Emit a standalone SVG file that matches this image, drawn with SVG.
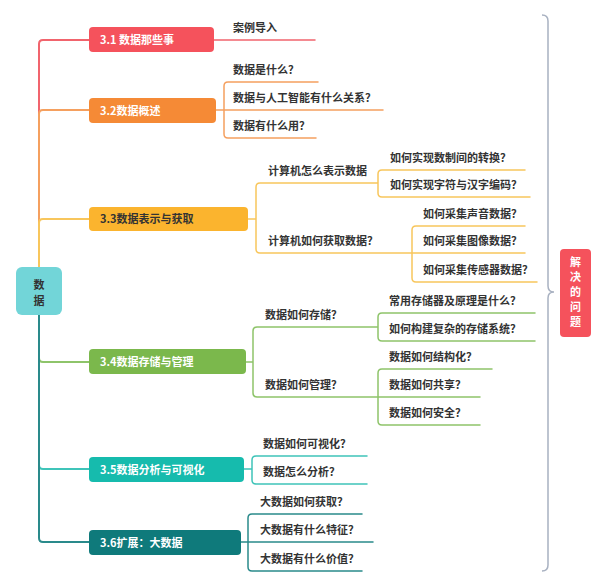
<svg xmlns="http://www.w3.org/2000/svg" width="608" height="586" viewBox="0 0 608 586">
<style>
text{font-family:"Noto Sans CJK SC","Noto Sans",sans-serif;font-weight:bold;font-size:11px;fill:#333}
.w{fill:#fff}
.ln{fill:none;stroke-width:1.5;stroke-linecap:round;stroke-linejoin:round}
.tr{fill:none;stroke-width:2;stroke-linejoin:round}
.c1{stroke:#f1646d}.c2{stroke:#f5a05f}.c3{stroke:#f8c65c}.c4{stroke:#8ec46a}.c5{stroke:#3fc4b9}.c6{stroke:#2a8a8b}
</style>
<rect width="608" height="586" fill="#fff"/>
<g id="connectors">
<path class="tr c1" d="M39,267 L39,44 Q39,40 43,40 L89,40"/>
<path class="tr c2" d="M39,267 L39,114 Q39,110 43,110 L89,110"/>
<path class="tr c3" d="M39,267 L39,223 Q39,219 43,219 L89,219"/>
<path class="tr c4" d="M39,315 L39,358 Q39,362 43,362 L89,362"/>
<path class="tr c5" d="M39,315 L39,465 Q39,469 43,469 L89,469"/>
<path class="tr c6" d="M39,315 L39,538 Q39,542 43,542 L89,542"/>
<path class="ln c1" d="M214,40 L315,40"/>
<path class="ln c2" d="M216,110 L383,110 M318,82 L228,82 Q224,82 224,86 L224,134 Q224,138 228,138 L316,138"/>
<path class="ln c3" d="M248,219 L256,219 M378,183 L260,183 Q256,183 256,187 L256,249 Q256,253 260,253 L525,253 M525,170 L382,170 Q378,170 378,174 L378,193 Q378,197 382,197 L530,197 M525,226 L416,226 Q412,226 412,230 L412,278 Q412,282 416,282 L537,282"/>
<path class="ln c4" d="M246,362 L253,362 M378,327 L257,327 Q253,327 253,331 L253,393 Q253,397 257,397 L480,397 M535,313 L382,313 Q378,313 378,317 L378,337 Q378,341 382,341 L535,341 M492,369 L382,369 Q378,369 378,373 L378,421 Q378,425 382,425 L480,425"/>
<path class="ln c5" d="M244,469 L252,469 M367,456 L256,456 Q252,456 252,460 L252,480 Q252,484 256,484 L367,484"/>
<path class="ln c6" d="M241,542 L373,542 M362,514 L252,514 Q248,514 248,518 L248,567 Q248,571 252,571 L362,571"/>
<path fill="none" stroke="#a8b1c1" stroke-width="1.5" d="M542,15 Q548,15 548,21 L548,286 Q548,292 554,292 Q548,292 548,298 L548,565 Q548,571 542,571"/>
</g>
<g id="root"><rect x="16" y="267" width="46" height="48" rx="6" fill="#72d5d8"/><text x="39" y="289" text-anchor="middle" font-size="12">数</text><text x="39" y="305" text-anchor="middle" font-size="12">据</text></g>
<g id="b31"><rect x="89" y="27" width="125" height="25" rx="4" fill="#f5525c"/><text class="w" x="100" y="44">3.1 数据那些事</text></g>
<g id="b32"><rect x="89" y="98" width="127" height="25" rx="4" fill="#f58a36"/><text class="w" x="100" y="115">3.2数据概述</text></g>
<g id="b33"><rect x="89" y="207" width="159" height="24" rx="4" fill="#fbb42e"/><text x="100" y="223">3.3数据表示与获取</text></g>
<g id="b34"><rect x="89" y="349" width="157" height="25" rx="4" fill="#7bb84c"/><text class="w" x="100" y="366">3.4数据存储与管理</text></g>
<g id="b35"><rect x="89" y="457" width="155" height="25" rx="4" fill="#16bbad"/><text class="w" x="100" y="474">3.5数据分析与可视化</text></g>
<g id="b36"><rect x="89" y="530" width="152" height="25" rx="4" fill="#0f7a7b"/><text class="w" x="100" y="547">3.6扩展：大数据</text></g>
<g id="t31"><text x="233" y="32">案例导入</text></g>
<g id="t32"><text x="233" y="74">数据是什么？</text><text x="233" y="102">数据与人工智能有什么关系？</text><text x="233" y="130">数据有什么用？</text></g>
<g id="t33a"><text x="268" y="175">计算机怎么表示数据</text><text x="390" y="162">如何实现数制间的转换？</text><text x="390" y="189">如何实现字符与汉字编码？</text></g>
<g id="t33b"><text x="268" y="245">计算机如何获取数据？</text><text x="423" y="218">如何采集声音数据？</text><text x="423" y="245">如何采集图像数据？</text><text x="423" y="274">如何采集传感器数据？</text></g>
<g id="t34a"><text x="265" y="319">数据如何存储？</text><text x="389" y="305">常用存储器及原理是什么？</text><text x="389" y="333">如何构建复杂的存储系统？</text></g>
<g id="t34b"><text x="265" y="389">数据如何管理？</text><text x="389" y="361">数据如何结构化？</text><text x="389" y="389">数据如何共享？</text><text x="389" y="417">数据如何安全？</text></g>
<g id="t35"><text x="263" y="448">数据如何可视化？</text><text x="263" y="476">数据怎么分析？</text></g>
<g id="t36"><text x="260" y="506">大数据如何获取？</text><text x="260" y="534">大数据有什么特征？</text><text x="260" y="563">大数据有什么价值？</text></g>
<g id="summary"><rect x="560" y="249" width="31" height="88" rx="4" fill="#f5525c"/><text class="w" x="575.5" y="266" text-anchor="middle">解</text><text class="w" x="575.5" y="281" text-anchor="middle">决</text><text class="w" x="575.5" y="296" text-anchor="middle">的</text><text class="w" x="575.5" y="311" text-anchor="middle">问</text><text class="w" x="575.5" y="326" text-anchor="middle">题</text></g>
</svg>
